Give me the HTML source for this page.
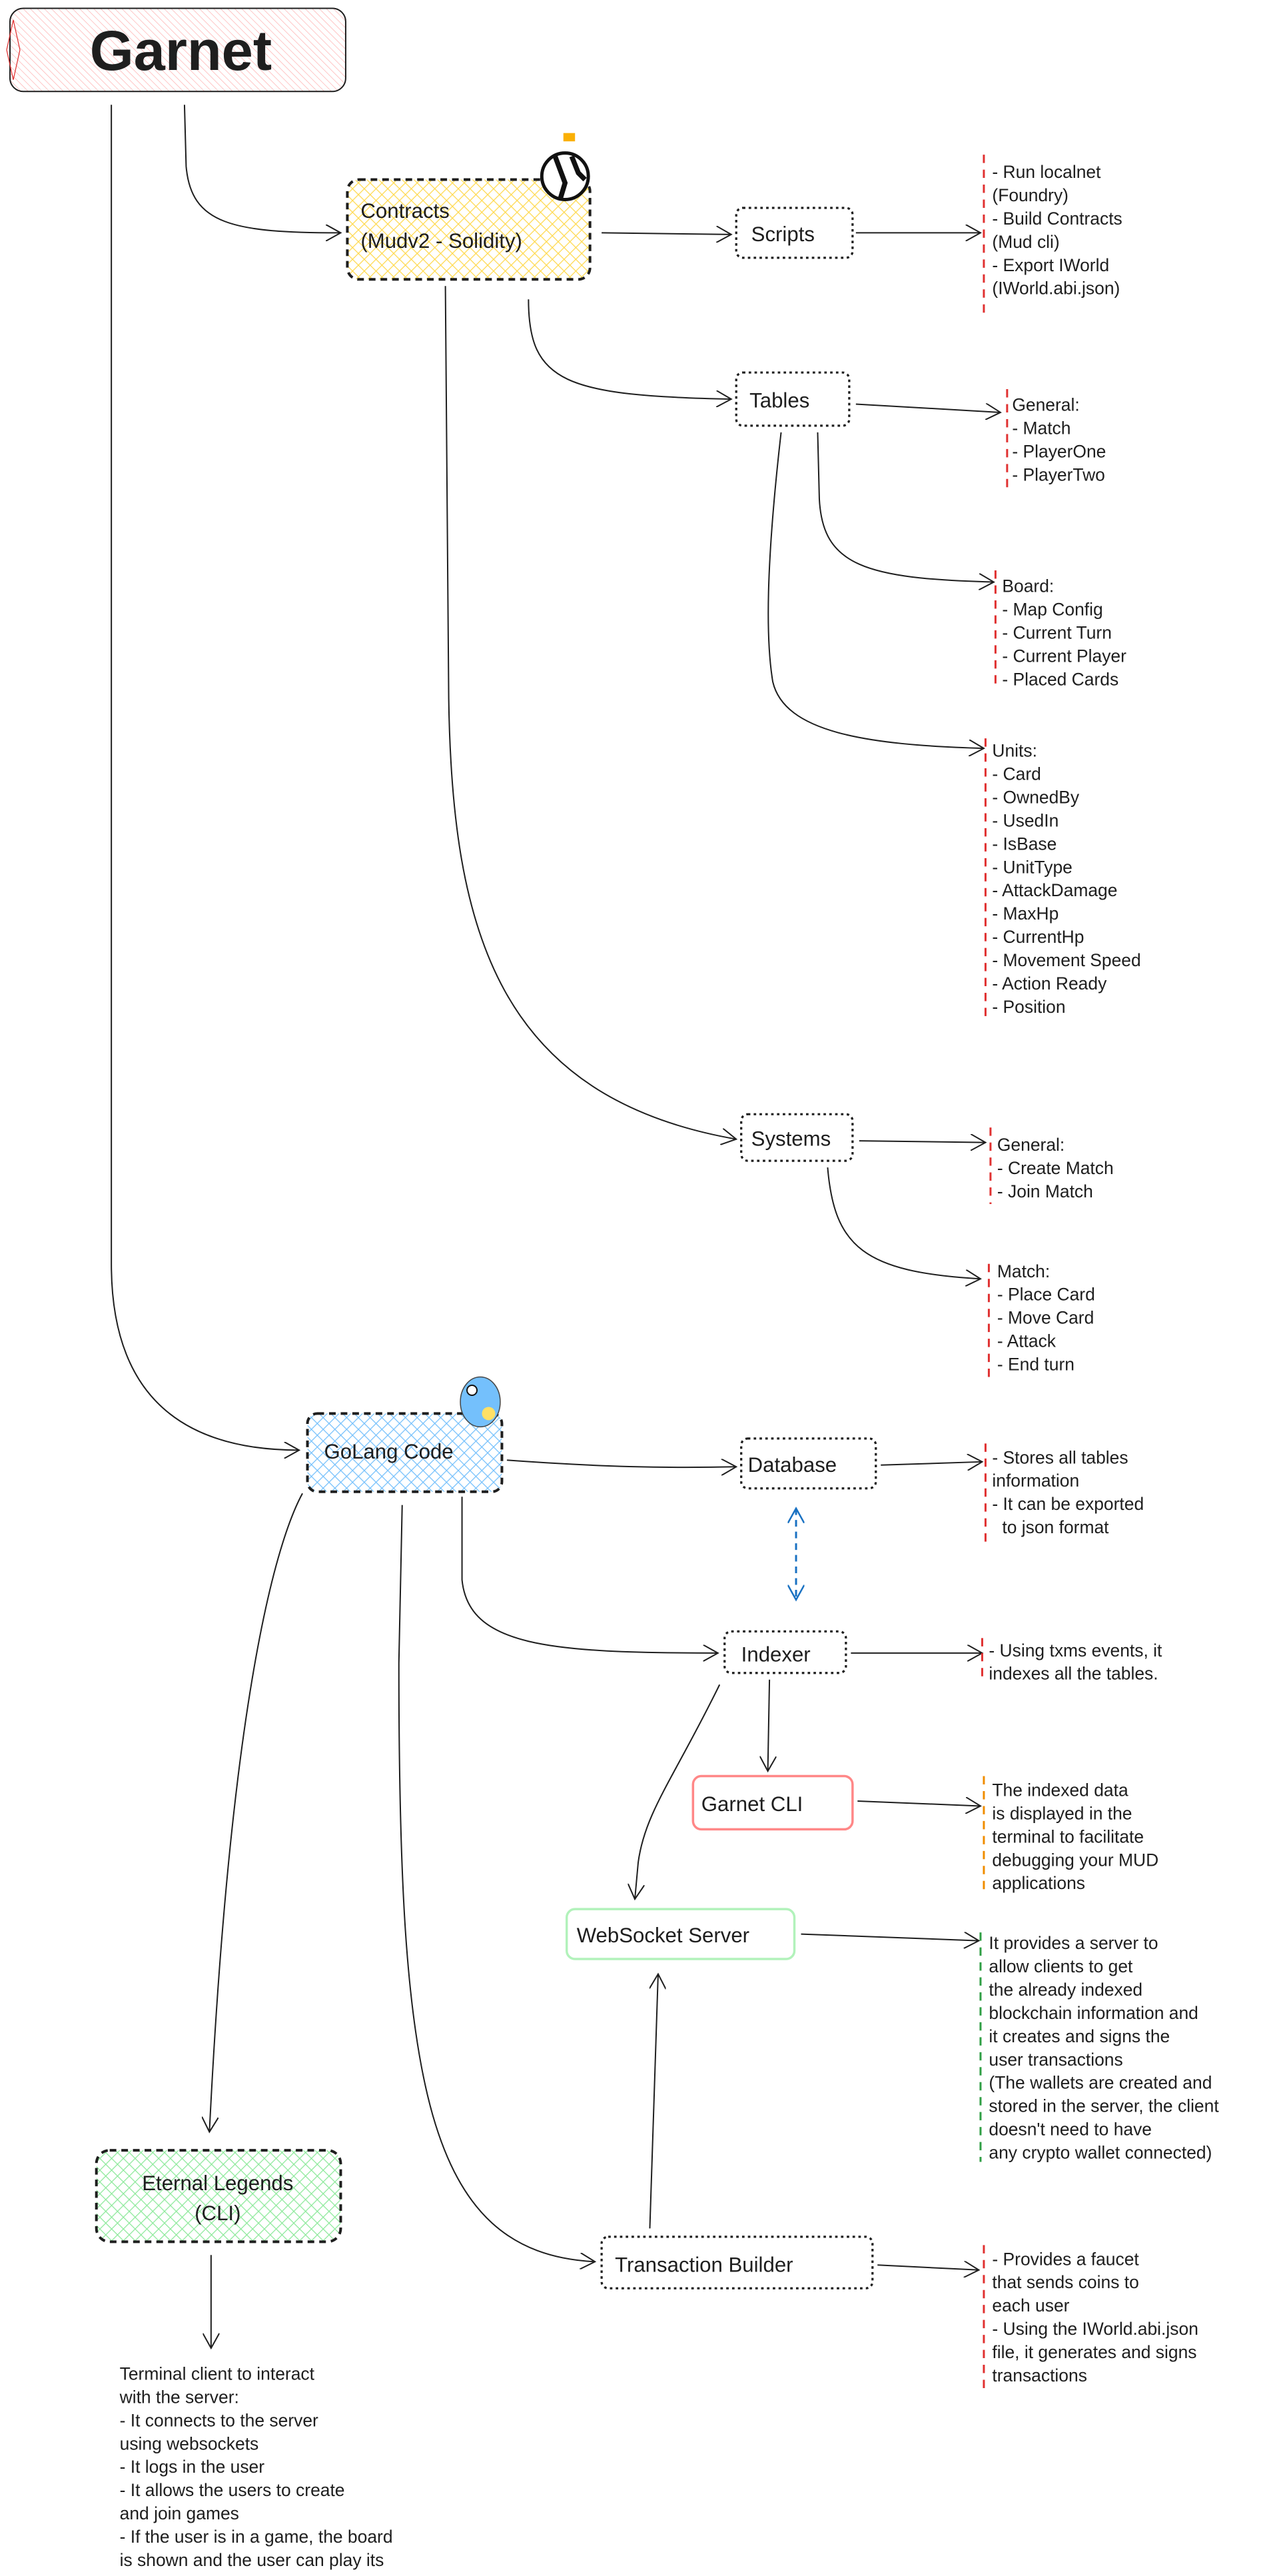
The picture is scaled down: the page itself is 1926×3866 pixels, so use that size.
<!DOCTYPE html>
<html><head><meta charset="utf-8"><style>
html,body{margin:0;padding:0;background:#fff;}
svg{display:block;}
text{font-family:"Liberation Sans",sans-serif;fill:#1e1e1e;}
.n{font-size:12.5px;}
.t{font-size:10.6px;}
.ln{fill:none;stroke:#1e1e1e;stroke-width:0.8;}
</style></head><body>
<svg width="1926" height="3866" viewBox="0 0 772 1549" preserveAspectRatio="none" xmlns="http://www.w3.org/2000/svg">
<defs>
<pattern id="hp" width="3" height="3" patternUnits="userSpaceOnUse" patternTransform="rotate(-45)"><line x1="0" y1="0" x2="0" y2="3" stroke="#ffb3b3" stroke-width="0.6"/></pattern>
<pattern id="hy" width="5" height="5" patternUnits="userSpaceOnUse" patternTransform="rotate(45)"><path d="M0 0V5M0 0H5" stroke="#ffd94d" stroke-width="1" fill="none"/></pattern>
<pattern id="hb" width="5" height="5" patternUnits="userSpaceOnUse" patternTransform="rotate(45)"><path d="M0 0V5M0 0H5" stroke="#74c0fc" stroke-width="1" fill="none"/></pattern>
<pattern id="hg" width="5" height="5" patternUnits="userSpaceOnUse" patternTransform="rotate(45)"><path d="M0 0V5M0 0H5" stroke="#8ce99a" stroke-width="1" fill="none"/></pattern>
<marker id="a" markerWidth="10" markerHeight="10" refX="9" refY="5" orient="auto" markerUnits="userSpaceOnUse"><path d="M0 0L9 5L0 10" fill="none" stroke="#1e1e1e" stroke-width="0.8"/></marker>
<marker id="ab" markerWidth="10" markerHeight="10" refX="9" refY="5" orient="auto-start-reverse" markerUnits="userSpaceOnUse"><path d="M0 0L9 5L0 10" fill="none" stroke="#1971c2" stroke-width="1"/></marker>
</defs>

<rect x="6" y="5" width="202" height="50" rx="8" fill="url(#hp)" stroke="#1e1e1e" stroke-width="0.8"/>
<path d="M8 12 L12 30 L8 48 L4 30 Z" fill="none" stroke="#e03131" stroke-width="0.5"/>
<text x="54" y="42" style="font-size:34px;font-weight:bold">Garnet</text>

<path class="ln" d="M67 63 L67 760 C67 830 100 872 180 872" marker-end="url(#a)"/>
<path class="ln" d="M111 63 L112 100 C115 135 140 140 205 140" marker-end="url(#a)"/>

<rect x="209" y="108" width="146" height="60" rx="7" fill="url(#hy)" stroke="#1e1e1e" stroke-width="1.6" stroke-dasharray="4 3"/>
<text class="n" x="217" y="131">Contracts</text>
<text class="n" x="217" y="149">(Mudv2 - Solidity)</text>
<rect x="339" y="80" width="7" height="5" fill="#fab005"/>
<circle cx="340" cy="106" r="14" fill="#fff" stroke="#111" stroke-width="2"/>
<path d="M334 94 L340 110 L337 120 M344 94 L348 104 L352 108" stroke="#111" stroke-width="3" fill="none"/>

<path class="ln" d="M362 140 L440 141" marker-end="url(#a)"/>
<rect x="443" y="125" width="70" height="30" rx="4" fill="#fff" stroke="#1e1e1e" stroke-width="1.3" stroke-dasharray="1.5 2"/>
<text class="n" x="452" y="145">Scripts</text>
<path class="ln" d="M515 140 L590 140" marker-end="url(#a)"/>
<line x1="592" y1="93" x2="592" y2="188" stroke="#e03131" stroke-width="1.2" stroke-dasharray="5 4"/>
<g class="t"><text x="597" y="107">- Run localnet</text><text x="597" y="121">(Foundry)</text><text x="597" y="135">- Build Contracts</text><text x="597" y="149">(Mud cli)</text><text x="597" y="163">- Export IWorld</text><text x="597" y="177">(IWorld.abi.json)</text></g>

<path class="ln" d="M318 180 C318 230 340 238 440 240" marker-end="url(#a)"/>
<rect x="443" y="224" width="68" height="32" rx="4" fill="#fff" stroke="#1e1e1e" stroke-width="1.3" stroke-dasharray="1.5 2"/>
<text class="n" x="451" y="245">Tables</text>
<path class="ln" d="M515 243 L602 248" marker-end="url(#a)"/>
<line x1="606" y1="234" x2="606" y2="294" stroke="#e03131" stroke-width="1.2" stroke-dasharray="5 4"/>
<g class="t"><text x="609" y="247">General:</text><text x="609" y="261">- Match</text><text x="609" y="275">- PlayerOne</text><text x="609" y="289">- PlayerTwo</text></g>

<path class="ln" d="M492 260 L493 300 C495 340 520 348 598 350" marker-end="url(#a)"/>
<line x1="599" y1="343" x2="599" y2="415" stroke="#e03131" stroke-width="1.2" stroke-dasharray="5 4"/>
<g class="t"><text x="603" y="356">Board:</text><text x="603" y="370">- Map Config</text><text x="603" y="384">- Current Turn</text><text x="603" y="398">- Current Player</text><text x="603" y="412">- Placed Cards</text></g>

<path class="ln" d="M470 260 C462 330 460 380 465 410 C472 440 520 448 592 450" marker-end="url(#a)"/>
<line x1="593" y1="444" x2="593" y2="612" stroke="#e03131" stroke-width="1.2" stroke-dasharray="5 4"/>
<g class="t"><text x="597" y="455">Units:</text><text x="597" y="469">- Card</text><text x="597" y="483">- OwnedBy</text><text x="597" y="497">- UsedIn</text><text x="597" y="511">- IsBase</text><text x="597" y="525">- UnitType</text><text x="597" y="539">- AttackDamage</text><text x="597" y="553">- MaxHp</text><text x="597" y="567">- CurrentHp</text><text x="597" y="581">- Movement Speed</text><text x="597" y="595">- Action Ready</text><text x="597" y="609">- Position</text></g>

<path class="ln" d="M268 172 L270 420 C272 560 300 660 443 685" marker-end="url(#a)"/>
<rect x="446" y="670" width="67" height="28" rx="4" fill="#fff" stroke="#1e1e1e" stroke-width="1.3" stroke-dasharray="1.5 2"/>
<text class="n" x="452" y="689">Systems</text>
<path class="ln" d="M517 686 L593 687" marker-end="url(#a)"/>
<line x1="596" y1="678" x2="596" y2="724" stroke="#e03131" stroke-width="1.2" stroke-dasharray="5 4"/>
<g class="t"><text x="600" y="692">General:</text><text x="600" y="706">- Create Match</text><text x="600" y="720">- Join Match</text></g>
<path class="ln" d="M498 702 C502 750 520 765 590 769" marker-end="url(#a)"/>
<line x1="595" y1="760" x2="595" y2="828" stroke="#e03131" stroke-width="1.2" stroke-dasharray="5 4"/>
<g class="t"><text x="600" y="768">Match:</text><text x="600" y="782">- Place Card</text><text x="600" y="796">- Move Card</text><text x="600" y="810">- Attack</text><text x="600" y="824">- End turn</text></g>

<rect x="185" y="850" width="117" height="47" rx="6" fill="url(#hb)" stroke="#1e1e1e" stroke-width="1.6" stroke-dasharray="4 3"/>
<text class="n" x="195" y="877">GoLang Code</text>
<ellipse cx="289" cy="843" rx="12" ry="15" fill="#74c0fc" stroke="#444" stroke-width="0.6"/>
<circle cx="284" cy="836" r="3" fill="#fff" stroke="#111" stroke-width="0.8"/>
<circle cx="294" cy="850" r="4" fill="#ffe066"/>

<path class="ln" d="M305 878 C360 882 400 883 443 882" marker-end="url(#a)"/>
<rect x="446" y="865" width="81" height="30" rx="4" fill="#fff" stroke="#1e1e1e" stroke-width="1.3" stroke-dasharray="1.5 2"/>
<text class="n" x="450" y="885">Database</text>
<path class="ln" d="M530 881 L591 879" marker-end="url(#a)"/>
<line x1="593" y1="868" x2="593" y2="928" stroke="#e03131" stroke-width="1.2" stroke-dasharray="5 4"/>
<g class="t"><text x="597" y="880">- Stores all tables</text><text x="597" y="894">information</text><text x="597" y="908">- It can be exported</text><text x="603" y="922">to json format</text></g>

<line x1="479" y1="907" x2="479" y2="962" stroke="#1971c2" stroke-width="1.2" stroke-dasharray="4 3" marker-start="url(#ab)" marker-end="url(#ab)"/>

<path class="ln" d="M278 900 L278 950 C282 990 330 994 432 994" marker-end="url(#a)"/>
<rect x="436" y="981" width="73" height="25" rx="4" fill="#fff" stroke="#1e1e1e" stroke-width="1.3" stroke-dasharray="1.5 2"/>
<text class="n" x="446" y="999">Indexer</text>
<path class="ln" d="M512 994 L591 994" marker-end="url(#a)"/>
<line x1="591" y1="985" x2="591" y2="1012" stroke="#e03131" stroke-width="1.2" stroke-dasharray="5 4"/>
<g class="t"><text x="595" y="996">- Using txms events, it</text><text x="595" y="1010">indexes all the tables.</text></g>

<path class="ln" d="M463 1010 L462 1065" marker-end="url(#a)"/>
<rect x="417" y="1068" width="96" height="32" rx="5" fill="#fff" stroke="#ff8787" stroke-width="1.4"/>
<text class="n" x="422" y="1089">Garnet CLI</text>
<path class="ln" d="M516 1083 L590 1086" marker-end="url(#a)"/>
<line x1="592" y1="1068" x2="592" y2="1140" stroke="#f08c00" stroke-width="1.2" stroke-dasharray="5 4"/>
<g class="t"><text x="597" y="1080">The indexed data</text><text x="597" y="1094">is displayed in the</text><text x="597" y="1108">terminal to facilitate</text><text x="597" y="1122">debugging your MUD</text><text x="597" y="1136">applications</text></g>

<path class="ln" d="M433 1013 C405 1070 388 1090 384 1120 L382 1142" marker-end="url(#a)"/>

<rect x="341" y="1148" width="137" height="30" rx="5" fill="#fff" stroke="#b2f2bb" stroke-width="1.4"/>
<text class="n" x="347" y="1168">WebSocket Server</text>
<path class="ln" d="M482 1163 L589 1167" marker-end="url(#a)"/>
<line x1="590" y1="1162" x2="590" y2="1300" stroke="#2f9e44" stroke-width="1.2" stroke-dasharray="5 4"/>
<g class="t"><text x="595" y="1172">It provides a server to</text><text x="595" y="1186">allow clients to get</text><text x="595" y="1200">the already indexed</text><text x="595" y="1214">blockchain information and</text><text x="595" y="1228">it creates and signs the</text><text x="595" y="1242">user transactions</text><text x="595" y="1256">(The wallets are created and</text><text x="595" y="1270">stored in the server, the client</text><text x="595" y="1284">doesn't need to have</text><text x="595" y="1298">any crypto wallet connected)</text></g>

<path class="ln" d="M391 1340 L396 1187" marker-end="url(#a)"/>
<path class="ln" d="M242 905 L240 1000 C240 1250 255 1355 358 1360" marker-end="url(#a)"/>
<rect x="362" y="1345" width="163" height="31" rx="4" fill="#fff" stroke="#1e1e1e" stroke-width="1.3" stroke-dasharray="1.5 2"/>
<text class="n" x="370" y="1366">Transaction Builder</text>
<path class="ln" d="M528 1362 L589 1365" marker-end="url(#a)"/>
<line x1="592" y1="1350" x2="592" y2="1437" stroke="#e03131" stroke-width="1.2" stroke-dasharray="5 4"/>
<g class="t"><text x="597" y="1362">- Provides a faucet</text><text x="597" y="1376">that sends coins to</text><text x="597" y="1390">each user</text><text x="597" y="1404">- Using the IWorld.abi.json</text><text x="597" y="1418">file, it generates and signs</text><text x="597" y="1432">transactions</text></g>

<path class="ln" d="M182 898 C170 920 140 1000 126 1282" marker-end="url(#a)"/>
<rect x="58" y="1293" width="147" height="55" rx="8" fill="url(#hg)" stroke="#1e1e1e" stroke-width="1.6" stroke-dasharray="4 3"/>
<text class="n" x="131" y="1317" text-anchor="middle">Eternal Legends</text>
<text class="n" x="131" y="1335" text-anchor="middle">(CLI)</text>
<path class="ln" d="M127 1356 L127 1412" marker-end="url(#a)"/>
<g class="t"><text x="72" y="1431">Terminal client to interact</text><text x="72" y="1445">with the server:</text><text x="72" y="1459">- It connects to the server</text><text x="72" y="1473">using websockets</text><text x="72" y="1487">- It logs in the user</text><text x="72" y="1501">- It allows the users to create</text><text x="72" y="1515">and join games</text><text x="72" y="1529">- If the user is in a game, the board</text><text x="72" y="1543">is shown and the user can play its</text><text x="72" y="1557">current match</text></g>
</svg>
</body></html>
